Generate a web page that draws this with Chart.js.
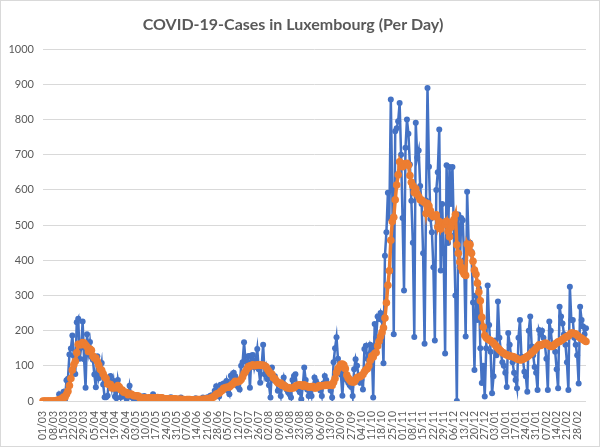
<!DOCTYPE html>
<html>
<head>
<meta charset="utf-8">
<script src="https://cdn.jsdelivr.net/npm/chart.js@4.4.1/dist/chart.umd.min.js"></script>
<style>
  body { margin: 0; background: #fff; }
</style>
</head>
<body>
<canvas id="covidChart" width="600" height="447"></canvas>
<script>
// weekly tick labels shown under the axis (every 7th day)
const weekTicks = [
  '01/03', '08/03', '15/03', '22/03', '29/03', '05/04', '12/04', '19/04', '26/04',
  '03/05', '10/05', '17/05', '24/05', '31/05', '07/06', '14/06', '21/06', '28/06',
  '05/07', '12/07', '19/07', '26/07', '02/08', '09/08', '16/08', '23/08', '30/08',
  '06/09', '13/09', '20/09', '27/09', '04/10', '11/10', '18/10', '25/10', '01/11',
  '08/11', '15/11', '22/11', '29/11', '06/12', '13/12', '20/12', '27/12', '03/01',
  '10/01', '17/01', '24/01', '31/01', '07/02', '14/02', '21/02', '28/02'
];

// new cases per day, one row per week (Sun..Sat), from 01/03/2020
const dailyCases = [
  0, 0, 0, 0, 1, 1, 0,
  1, 1, 3, 2, 19, 8, 17,
  26, 4, 59, 63, 132, 149, 186,
  128, 77, 224, 234, 120, 152, 226,
  119, 38, 190, 141, 168, 125, 117,
  75, 39, 127, 65, 80, 108, 47,
  11, 11, 15, 66, 71, 36, 57,
  13, 8, 60, 36, 11, 30, 16,
  12, 6, 12, 43, 18, 9, 5,
  11, 7, 3, 8, 13, 10, 14,
  3, 4, 9, 10, 5, 19, 12,
  7, 5, 2, 5, 11, 5, 7,
  6, 4, 0, 11, 9, 3, 7,
  4, 2, 2, 10, 2, 3, 1,
  6, 4, 2, 6, 1, 3, 8,
  5, 3, 5, 1, 10, 4, 8,
  11, 7, 15, 16, 13, 29, 42,
  28, 13, 46, 42, 50, 39, 57,
  29, 19, 72, 62, 80, 70, 45,
  40, 33, 100, 110, 167, 114, 95,
  128, 38, 129, 131, 96, 116, 148,
  90, 52, 100, 160, 76, 95, 62,
  45, 10, 95, 62, 70, 55, 29,
  30, 14, 50, 67, 45, 33, 25,
  19, 10, 60, 71, 76, 45, 33,
  25, 5, 40, 95, 60, 33, 14,
  30, 14, 43, 67, 57, 48, 40,
  30, 14, 50, 71, 60, 43, 45,
  30, 10, 110, 150, 181, 120, 81,
  75, 15, 90, 80, 60, 52, 45,
  40, 14, 90, 119, 100, 71, 52,
  60, 33, 148, 157, 120, 130, 160,
  150, 10, 219, 180, 240, 233, 250,
  230, 107, 413, 480, 592, 520, 857,
  600, 190, 767, 775, 795, 847, 700,
  520, 314, 720, 800, 760, 672, 569,
  450, 182, 791, 692, 712, 611, 560,
  420, 163, 570, 890, 666, 517, 480,
  380, 172, 600, 650, 772, 371, 560,
  420, 135, 670, 449, 665, 560, 665,
  470, 300, 0, 530, 380, 520, 514,
  400, 183, 595, 450, 450, 424, 280,
  88, 300, 230, 320, 150, 51, 100,
  13, 150, 328, 216, 140, 22, 70,
  172, 130, 283, 180, 140, 110, 100,
  80, 40, 193, 160, 126, 110, 80,
  60, 36, 180, 230, 126, 120, 83,
  70, 26, 200, 240, 155, 130, 97,
  80, 31, 202, 190, 200, 180, 160,
  120, 31, 226, 200, 155, 160, 140,
  90, 36, 268, 240, 220, 190, 160,
  110, 31, 325, 230, 230, 180, 160,
  130, 50, 268, 230, 212, 190, 207
];

// 7-day average
const weeklyAverage = [
  0, 0, 0, 0, 0, 0, 0,
  0, 0, 1, 1, 4, 5, 7,
  11, 11, 19, 28, 44, 64, 88,
  103, 113, 137, 161, 160, 160, 166,
  165, 159, 154, 141, 148, 144, 128,
  122, 122, 113, 102, 90, 87, 77,
  68, 64, 48, 48, 47, 37, 38,
  38, 38, 44, 40, 32, 31, 25,
  25, 24, 18, 19, 20, 17, 15,
  15, 15, 14, 9, 8, 8, 9,
  8, 8, 9, 9, 8, 9, 9,
  9, 10, 9, 8, 9, 7, 6,
  6, 6, 5, 6, 6, 6, 6,
  5, 5, 5, 5, 4, 4, 3,
  4, 4, 4, 3, 3, 3, 4,
  4, 4, 4, 4, 5, 5, 5,
  6, 7, 8, 10, 11, 14, 19,
  21, 22, 27, 30, 36, 37, 39,
  39, 40, 44, 47, 51, 56, 54,
  55, 57, 61, 68, 78, 84, 91,
  98, 99, 101, 103, 100, 101, 103,
  102, 103, 101, 102, 100, 97, 90,
  84, 78, 76, 66, 63, 57, 52,
  50, 51, 44, 45, 41, 38, 38,
  36, 36, 37, 38, 42, 44, 45,
  46, 45, 42, 46, 43, 42, 39,
  40, 41, 41, 37, 37, 39, 43,
  43, 43, 44, 44, 45, 44, 45,
  45, 44, 53, 64, 81, 92, 97,
  104, 105, 102, 92, 74, 65, 60,
  55, 54, 54, 60, 66, 68, 69,
  72, 75, 83, 89, 92, 100, 115,
  128, 125, 135, 138, 156, 170, 183,
  195, 208, 236, 279, 329, 370, 457,
  510, 522, 572, 614, 643, 680, 668,
  666, 674, 672, 676, 670, 641, 622,
  612, 593, 603, 588, 581, 572, 571,
  567, 564, 533, 561, 554, 541, 529,
  524, 525, 529, 495, 510, 489, 501,
  506, 501, 511, 482, 467, 494, 509,
  516, 530, 444, 420, 395, 380, 368,
  360, 357, 446, 435, 445, 420, 397,
  372, 360, 335, 310, 285, 238, 210,
  186, 180, 176, 174, 172, 168, 165,
  160, 155, 150, 146, 142, 138, 136,
  133, 131, 129, 128, 127, 126, 125,
  122, 120, 118, 117, 117, 119, 121,
  124, 126, 129, 133, 137, 141, 145,
  150, 155, 160, 158, 160, 162, 164,
  164, 160, 157, 155, 155, 158, 162,
  165, 168, 169, 172, 175, 178, 181,
  183, 185, 189, 193, 193, 192, 190,
  187, 183, 180, 178, 175, 172, 169
];

// one category per day
const days = dailyCases.map(function (v, i) {
  const d = new Date(2020, 2, 1 + i);
  return String(d.getDate()).padStart(2, '0') + '/' + String(d.getMonth() + 1).padStart(2, '0');
});

const chartBorder = {
  id: 'chartBorder',
  afterDraw(chart) {
    const c = chart.ctx;
    c.save();
    c.strokeStyle = '#d9d9d9';
    c.lineWidth = 1;
    c.strokeRect(0.5, 0.5, chart.width - 1, chart.height - 1);
    c.restore();
  }
};

const ctx = document.querySelector('#covidChart').getContext('2d');

new Chart(ctx, {
  type: 'line',
  data: {
    labels: days,
    datasets: [{
      label: 'Cases',
      data: dailyCases,
      borderColor: '#4472C4',
      backgroundColor: '#4472C4',
      borderWidth: 2.5,
      pointRadius: 3,
      pointBorderWidth: 0,
      tension: 0,
      order: 2
    }, {
      label: '7-day average',
      data: weeklyAverage,
      borderColor: '#ED7D31',
      backgroundColor: '#ED7D31',
      borderWidth: 3.5,
      pointRadius: 3.8,
      pointBorderWidth: 0,
      tension: 0,
      order: 1
    }]
  },
  options: {
    responsive: false,
    animation: false,
    layout: { padding: { left: 0, right: 14, top: 0, bottom: 0 } },
    plugins: {
      legend: { display: false },
      tooltip: { enabled: false },
      title: {
        display: true,
        text: 'COVID-19-Cases in Luxembourg (Per Day)',
        color: '#595959',
        font: { family: 'Lato', size: 16, weight: 'bold' },
        padding: { top: 15, bottom: 15 }
      }
    },
    scales: {
      x: {
        grid: { display: false },
        border: { display: false },
        ticks: {
          autoSkip: false,
          maxRotation: 90,
          minRotation: 90,
          padding: 2,
          color: '#595959',
          font: { family: 'Lato', size: 10.5 },
          callback: function (value, index) {
            return index % 7 === 0 ? weekTicks[index / 7] : null;
          }
        },
        afterFit: function (scale) { scale.height = 46; }
      },
      y: {
        min: 0,
        max: 1000,
        grid: { color: '#d9d9d9', drawTicks: false },
        border: { display: false },
        ticks: {
          stepSize: 100,
          padding: 9,
          color: '#595959',
          font: { family: 'Lato', size: 11 },
          callback: function (value) { return String(value); }
        },
        afterFit: function (scale) { scale.width = 43; }
      }
    }
  },
  plugins: [chartBorder]
});
</script>
</body>
</html>
